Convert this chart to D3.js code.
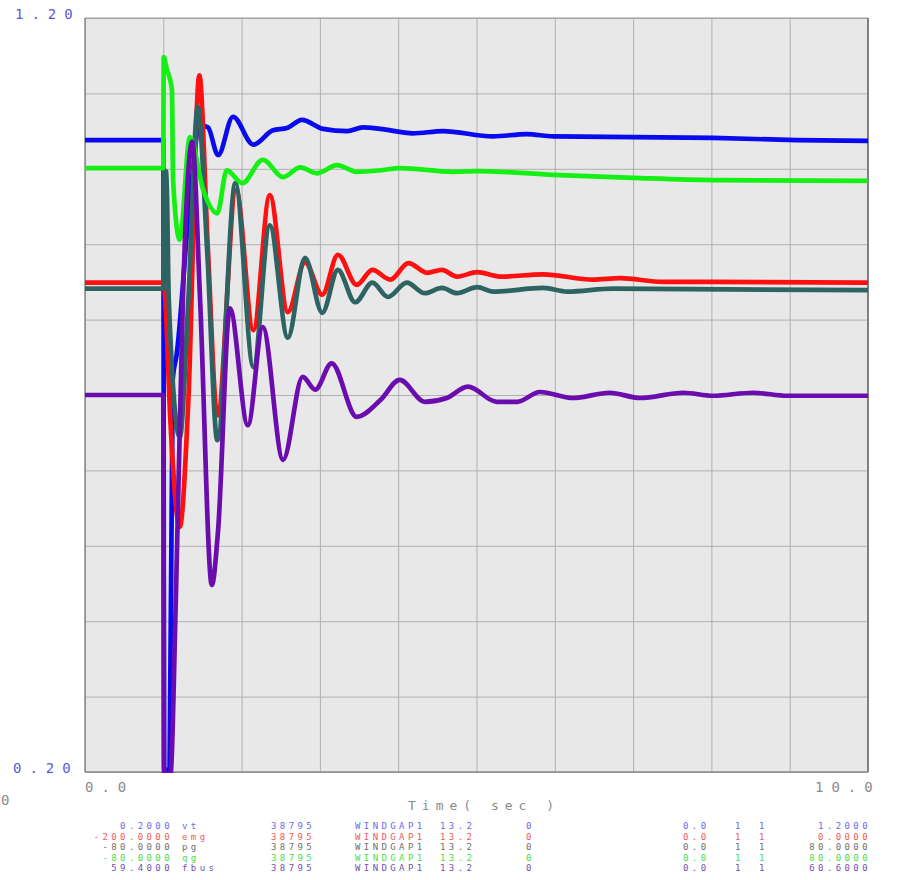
<!DOCTYPE html>
<html>
<head>
<meta charset="utf-8">
<script src="https://cdn.jsdelivr.net/npm/d3@7"></script>
<style>
  html, body { margin: 0; padding: 0; background: #ffffff; }
  svg { display: block; }
  text { font-family: "DejaVu Sans Mono", "Liberation Mono", monospace; }
</style>
</head>
<body>
<svg id="chart" width="913" height="880"></svg>
<script>
// ---------------- DATA ----------------
// Time axis (sec) and plotted value (axis units 0.20 .. 1.20)
const vtTime  = [0, 1.0, 1.01, 1.08, 1.12, 1.17, 1.34, 1.47, 1.57, 1.70, 1.89, 2.15, 2.40, 2.58, 2.77, 3.04, 3.35, 3.55, 3.77, 4.19, 4.57, 5.21, 5.64, 5.98, 7.00, 8.02, 9.09, 10];
const vtValue = [1.038, 1.038, 0.203, 0.203, 0.720, 0.753, 0.959, 1.058, 1.055, 1.018, 1.069, 1.032, 1.051, 1.054, 1.065, 1.053, 1.050, 1.055, 1.053, 1.047, 1.050, 1.043, 1.046, 1.043, 1.042, 1.041, 1.038, 1.037];

const emgTime  = [0, 1.0, 1.02, 1.09, 1.21, 1.32, 1.46, 1.57, 1.69, 1.93, 2.15, 2.36, 2.59, 2.81, 3.03, 3.23, 3.47, 3.67, 3.90, 4.13, 4.37, 4.56, 4.75, 5.01, 5.30, 5.85, 6.49, 6.83, 7.38, 8.02, 10];
const emgValue = [0.849, 0.849, 0.835, 0.667, 0.525, 0.693, 1.124, 0.892, 0.673, 0.972, 0.786, 0.965, 0.810, 0.876, 0.833, 0.886, 0.846, 0.866, 0.853, 0.875, 0.862, 0.866, 0.857, 0.863, 0.857, 0.860, 0.853, 0.855, 0.850, 0.850, 0.849];

const pgTime  = [0, 1.0, 1.005, 1.04, 1.07, 1.21, 1.32, 1.44, 1.56, 1.69, 1.92, 2.15, 2.36, 2.59, 2.81, 3.03, 3.23, 3.45, 3.67, 3.87, 4.11, 4.34, 4.56, 4.75, 5.01, 5.21, 5.85, 6.16, 6.74, 10];
const pgValue = [0.841, 0.841, 0.998, 0.996, 0.826, 0.644, 0.826, 1.082, 0.892, 0.640, 0.981, 0.737, 0.925, 0.776, 0.882, 0.809, 0.866, 0.823, 0.849, 0.830, 0.849, 0.835, 0.842, 0.835, 0.843, 0.837, 0.842, 0.837, 0.841, 0.839];

const qgTime  = [0, 1.0, 1.005, 1.04, 1.11, 1.125, 1.21, 1.34, 1.51, 1.69, 1.81, 2.01, 2.27, 2.53, 2.75, 2.96, 3.22, 3.47, 3.77, 4.02, 4.70, 5.01, 5.98, 7.00, 8.02, 10];
const qgValue = [1.001, 1.001, 1.148, 1.134, 1.105, 0.985, 0.906, 1.042, 0.972, 0.941, 0.998, 0.981, 1.012, 0.989, 1.002, 0.994, 1.005, 0.996, 0.998, 1.001, 0.996, 0.997, 0.992, 0.988, 0.985, 0.984];

const fbusTime  = [0, 1.0, 1.01, 1.09, 1.16, 1.25, 1.37, 1.47, 1.62, 1.70, 1.85, 2.08, 2.27, 2.53, 2.78, 2.94, 3.15, 3.47, 3.77, 4.02, 4.34, 4.62, 4.89, 5.26, 5.52, 5.81, 6.23, 6.70, 7.09, 7.64, 8.02, 8.53, 8.97, 10];
const fbusValue = [0.700, 0.700, 0.200, 0.196, 0.428, 0.826, 1.036, 0.826, 0.448, 0.521, 0.815, 0.660, 0.790, 0.614, 0.724, 0.707, 0.742, 0.671, 0.693, 0.720, 0.691, 0.696, 0.711, 0.691, 0.691, 0.704, 0.696, 0.703, 0.696, 0.703, 0.699, 0.703, 0.699, 0.699];

// Axis labels
const xTickLabels = ["0.0", "10.0"];
const yTickLabels = ["0.20", "1.20"];
const xAxisTitle = "Time( sec )";

// Channel legend table
const chanMin    = ["0.2000", "-200.0000", "-80.0000", "-80.0000", "59.4000"];
const chanName   = ["vt", "emg", "pg", "qg", "fbus"];
const chanBus    = ["38795", "38795", "38795", "38795", "38795"];
const chanBusNm  = ["WINDGAP1", "WINDGAP1", "WINDGAP1", "WINDGAP1", "WINDGAP1"];
const chanKv     = ["13.2", "13.2", "13.2", "13.2", "13.2"];
const chanId     = ["0", "0", "0", "0", "0"];
const chanOff    = ["0.0", "0.0", "0.0", "0.0", "0.0"];
const chanA      = ["1", "1", "1", "1", "1"];
const chanB      = ["1", "1", "1", "1", "1"];
const chanMax    = ["1.2000", "0.0000", "80.0000", "80.0000", "60.6000"];

// ---------------- DRAWING ----------------
const svg = d3.select("#chart");
const L = 85, R = 868, T = 18, B = 772;
const x = d3.scaleLinear().domain([0, 10]).range([L, R]);
const y = d3.scaleLinear().domain([0.2, 1.2]).range([B, T]);

// plot background
svg.append("rect").attr("x", L).attr("y", T).attr("width", R - L).attr("height", B - T).attr("fill", "#e8e8e8");

// grid
const gx = svg.append("g").attr("transform", `translate(0,${B})`)
  .call(d3.axisBottom(x).ticks(10).tickSize(-(B - T)).tickFormat(""));
gx.select(".domain").remove();
gx.selectAll(".tick line").attr("stroke", "#b0b0b0").attr("stroke-width", 1);

const gy = svg.append("g").attr("transform", `translate(${L},0)`)
  .call(d3.axisLeft(y).tickValues(d3.range(0, 11).map(i => 0.2 + i * 0.1)).tickSize(-(R - L)).tickFormat(""));
gy.select(".domain").remove();
gy.selectAll(".tick line").attr("stroke", "#b0b0b0").attr("stroke-width", 1);

// frame
svg.append("line").attr("x1", L).attr("x2", R).attr("y1", T).attr("y2", T).attr("stroke", "#9a9a9a").attr("stroke-width", 1.2);
svg.append("line").attr("x1", L).attr("x2", L).attr("y1", T).attr("y2", B).attr("stroke", "#8a8a8a").attr("stroke-width", 1.5);
svg.append("line").attr("x1", L).attr("x2", R).attr("y1", B).attr("y2", B).attr("stroke", "#8a8a8a").attr("stroke-width", 1.5);
svg.append("line").attr("x1", R).attr("x2", R).attr("y1", T).attr("y2", B).attr("stroke", "#808080").attr("stroke-width", 2);

// clip
svg.append("clipPath").attr("id", "clip").append("rect")
  .attr("x", L).attr("y", T - 2).attr("width", R - L).attr("height", B - T + 3);

// drawn in channel order: vt, emg, pg, qg, fbus (later ones on top)
const series = [
  { t: vtTime,   v: vtValue,   color: "#0a0aee" },
  { t: emgTime,  v: emgValue,  color: "#ff1010" },
  { t: pgTime,   v: pgValue,   color: "#2e6363" },
  { t: qgTime,   v: qgValue,   color: "#14f014" },
  { t: fbusTime, v: fbusValue, color: "#6a0cae" }
];

const line = d3.line()
  .x(d => x(d[0]))
  .y(d => y(d[1]))
  .curve(d3.curveMonotoneX);

const gLines = svg.append("g").attr("clip-path", "url(#clip)");
series.forEach(s => {
  const pts = s.t.map((t, i) => [t, s.v[i]]);
  gLines.append("path")
    .attr("d", line(pts))
    .attr("fill", "none")
    .attr("stroke", s.color)
    .attr("stroke-width", 4.7)
    .attr("stroke-linejoin", "round")
    .attr("stroke-linecap", "round");
});

// axis labels
const ax = svg.append("g").attr("font-size", 14).attr("letter-spacing", 8);
ax.append("text").attr("x", 15).attr("y", 19).attr("fill", "#5a5ad6").text(yTickLabels[1]);
ax.append("text").attr("x", 13).attr("y", 773).attr("fill", "#5a5ad6").text(yTickLabels[0]);
ax.append("text").attr("x", x(0)).attr("y", 792).attr("fill", "#8a8a8a").text(xTickLabels[0]);
ax.append("text").attr("x", x(10) - 53).attr("y", 792).attr("fill", "#8a8a8a").text(xTickLabels[1]);
ax.append("text").attr("x", 1).attr("y", 805).attr("fill", "#8a8a8a").text("0");
svg.append("text").attr("x", 408).attr("y", 810).attr("font-size", 13).attr("letter-spacing", 6)
  .attr("fill", "#8a8a8a").text(xAxisTitle);

// legend table
const legColors = ["#6a6ae6", "#f05a5a", "#6e6e6e", "#4ade4a", "#7450b0"];
const lg = svg.append("g").attr("font-size", 9).attr("letter-spacing", 3.4);
const rowY = i => 829 + i * 10.5;
chanName.forEach((nm, i) => {
  const c = legColors[i];
  const r = lg.append("g").attr("fill", c);
  r.append("text").attr("x", 173).attr("y", rowY(i)).attr("text-anchor", "end").text(chanMin[i]);
  r.append("text").attr("x", 182).attr("y", rowY(i)).text(nm);
  r.append("text").attr("x", 271).attr("y", rowY(i)).text(chanBus[i]);
  r.append("text").attr("x", 355).attr("y", rowY(i)).text(chanBusNm[i]);
  r.append("text").attr("x", 440).attr("y", rowY(i)).text(chanKv[i]);
  r.append("text").attr("x", 526).attr("y", rowY(i)).text(chanId[i]);
  r.append("text").attr("x", 683).attr("y", rowY(i)).text(chanOff[i]);
  r.append("text").attr("x", 735).attr("y", rowY(i)).text(chanA[i]);
  r.append("text").attr("x", 759).attr("y", rowY(i)).text(chanB[i]);
  r.append("text").attr("x", 871).attr("y", rowY(i)).attr("text-anchor", "end").text(chanMax[i]);
});
</script>
</body>
</html>
